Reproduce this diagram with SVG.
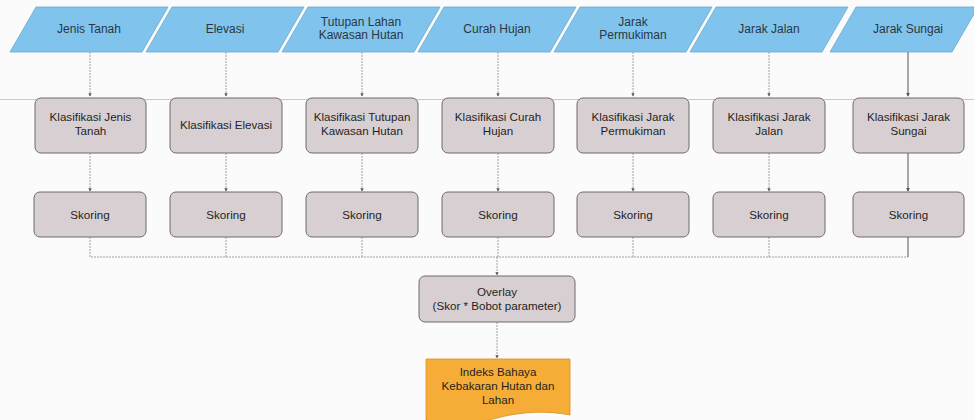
<svg xmlns="http://www.w3.org/2000/svg" width="974" height="420" viewBox="0 0 974 420">
  <style>
    .inp { fill: #80c4ee; stroke: #6aa9d2; stroke-width: 0.8; }
    .box { fill: #d8cfd2; stroke: #6e6a6b; stroke-width: 1; }
    .doc { fill: #f6ad38; stroke: #d98f1e; stroke-width: 0.8; }
    .t { font-family: "Liberation Sans", Arial, sans-serif; font-size: 11.6px; fill: #1f1f1f; text-anchor: middle; }
    .ti { font-family: "Liberation Sans", Arial, sans-serif; font-size: 12px; fill: #2a3642; text-anchor: middle; }
    .c { fill: none; stroke: #8a8a8a; stroke-width: 0.8; stroke-dasharray: 2 1; }
    .cs { fill: none; stroke: #555; stroke-width: 1; }
  </style>
  <defs>
    <marker id="arr" viewBox="0 0 6 6" refX="5" refY="3" markerWidth="4" markerHeight="4" orient="auto">
      <path d="M0,0 L6,3 L0,6 z" fill="#555"/>
    </marker>
  </defs>
  <rect x="0" y="0" width="974" height="420" fill="#fbfbfb"/>
  <!-- thin orange rule across the sheet -->
  <line x1="0" y1="99.5" x2="974" y2="99.5" stroke="#f4bd8c" stroke-width="1"/>

  <!-- connectors -->
  <g id="connectors">
    <path class="c" d="M90,52 V96" marker-end="url(#arr)"/>
    <path class="c" d="M226,52 V96" marker-end="url(#arr)"/>
    <path class="c" d="M362,52 V96" marker-end="url(#arr)"/>
    <path class="c" d="M498,52 V96" marker-end="url(#arr)"/>
    <path class="c" d="M633,52 V96" marker-end="url(#arr)"/>
    <path class="c" d="M769,52 V96" marker-end="url(#arr)"/>
    <path class="cs" d="M908,52 V96" marker-end="url(#arr)"/>

    <path class="c" d="M90,153 V191" marker-end="url(#arr)"/>
    <path class="c" d="M226,153 V191" marker-end="url(#arr)"/>
    <path class="c" d="M362,153 V191" marker-end="url(#arr)"/>
    <path class="c" d="M498,153 V191" marker-end="url(#arr)"/>
    <path class="c" d="M633,153 V191" marker-end="url(#arr)"/>
    <path class="c" d="M769,153 V191" marker-end="url(#arr)"/>
    <path class="cs" d="M908,153 V191" marker-end="url(#arr)"/>

    <path class="c" d="M90,237 V257 H908"/>
    <path class="c" d="M226,237 V257"/>
    <path class="c" d="M362,237 V257"/>
    <path class="c" d="M498,237 V257"/>
    <path class="c" d="M633,237 V257"/>
    <path class="c" d="M769,237 V257"/>
    <path class="cs" d="M908,237 V257"/>
    <path class="c" d="M497,257 V275" marker-end="url(#arr)"/>
    <path class="c" d="M497,322 V358" marker-end="url(#arr)"/>
  </g>

  <!-- input layers -->
  <g id="in-jenis-tanah">
    <polygon class="inp" points="36,7 168,7 142,52 10,52"/>
    <text class="ti" x="89" y="33">Jenis Tanah</text>
  </g>
  <g id="in-elevasi">
    <polygon class="inp" points="172,7 304,7 278,52 146,52"/>
    <text class="ti" x="225" y="33">Elevasi</text>
  </g>
  <g id="in-tutupan">
    <polygon class="inp" points="308,7 440,7 414,52 282,52"/>
    <text class="ti" x="361" y="26">Tutupan Lahan</text>
    <text class="ti" x="361" y="39">Kawasan Hutan</text>
  </g>
  <g id="in-curah-hujan">
    <polygon class="inp" points="444,7 576,7 550,52 418,52"/>
    <text class="ti" x="497" y="33">Curah Hujan</text>
  </g>
  <g id="in-permukiman">
    <polygon class="inp" points="580,7 712,7 686,52 554,52"/>
    <text class="ti" x="633" y="26">Jarak</text>
    <text class="ti" x="633" y="39">Permukiman</text>
  </g>
  <g id="in-jalan">
    <polygon class="inp" points="716,7 848,7 822,52 690,52"/>
    <text class="ti" x="769" y="33">Jarak Jalan</text>
  </g>
  <g id="in-sungai">
    <polygon class="inp" points="856,7 974,7 974,14 952,52 830,52"/>
    <text class="ti" x="908" y="33">Jarak Sungai</text>
  </g>

  <!-- classification -->
  <g id="kl-jenis-tanah">
    <rect class="box" x="35" y="98" width="111" height="55" rx="6"/>
    <text class="t" x="90.5" y="121">Klasifikasi Jenis</text>
    <text class="t" x="90.5" y="135">Tanah</text>
  </g>
  <g id="kl-elevasi">
    <rect class="box" x="170" y="98" width="112" height="55" rx="6"/>
    <text class="t" x="226" y="129">Klasifikasi Elevasi</text>
  </g>
  <g id="kl-tutupan">
    <rect class="box" x="306" y="98" width="112" height="55" rx="6"/>
    <text class="t" x="362" y="121">Klasifikasi Tutupan</text>
    <text class="t" x="362" y="135">Kawasan Hutan</text>
  </g>
  <g id="kl-curah-hujan">
    <rect class="box" x="442" y="98" width="112" height="55" rx="6"/>
    <text class="t" x="498" y="121">Klasifikasi Curah</text>
    <text class="t" x="498" y="135">Hujan</text>
  </g>
  <g id="kl-permukiman">
    <rect class="box" x="577" y="98" width="112" height="55" rx="6"/>
    <text class="t" x="633" y="121">Klasifikasi Jarak</text>
    <text class="t" x="633" y="135">Permukiman</text>
  </g>
  <g id="kl-jalan">
    <rect class="box" x="713" y="98" width="112" height="55" rx="6"/>
    <text class="t" x="769" y="121">Klasifikasi Jarak</text>
    <text class="t" x="769" y="135">Jalan</text>
  </g>
  <g id="kl-sungai">
    <rect class="box" x="853" y="98" width="111" height="55" rx="6"/>
    <text class="t" x="908.5" y="121">Klasifikasi Jarak</text>
    <text class="t" x="908.5" y="135">Sungai</text>
  </g>

  <!-- scoring -->
  <g id="sk-1"><rect class="box" x="34" y="192" width="112" height="45" rx="6"/><text class="t" x="90" y="219">Skoring</text></g>
  <g id="sk-2"><rect class="box" x="170" y="192" width="112" height="45" rx="6"/><text class="t" x="226" y="219">Skoring</text></g>
  <g id="sk-3"><rect class="box" x="306" y="192" width="112" height="45" rx="6"/><text class="t" x="362" y="219">Skoring</text></g>
  <g id="sk-4"><rect class="box" x="442" y="192" width="112" height="45" rx="6"/><text class="t" x="498" y="219">Skoring</text></g>
  <g id="sk-5"><rect class="box" x="577" y="192" width="112" height="45" rx="6"/><text class="t" x="633" y="219">Skoring</text></g>
  <g id="sk-6"><rect class="box" x="713" y="192" width="112" height="45" rx="6"/><text class="t" x="769" y="219">Skoring</text></g>
  <g id="sk-7"><rect class="box" x="853" y="192" width="111" height="45" rx="6"/><text class="t" x="908.5" y="219">Skoring</text></g>

  <!-- overlay -->
  <g id="overlay">
    <rect class="box" x="419" y="276" width="156" height="46" rx="6"/>
    <text class="t" x="497" y="296">Overlay</text>
    <text class="t" x="497" y="310">(Skor * Bobot parameter)</text>
  </g>

  <!-- result -->
  <g id="hasil">
    <path class="doc" d="M426,359 H570 V415 C545,410 520,412 497,418 C475,424 450,424 426,420 Z"/>
    <text class="t" x="498" y="376">Indeks Bahaya</text>
    <text class="t" x="498" y="390">Kebakaran Hutan dan</text>
    <text class="t" x="498" y="404">Lahan</text>
  </g>
</svg>
